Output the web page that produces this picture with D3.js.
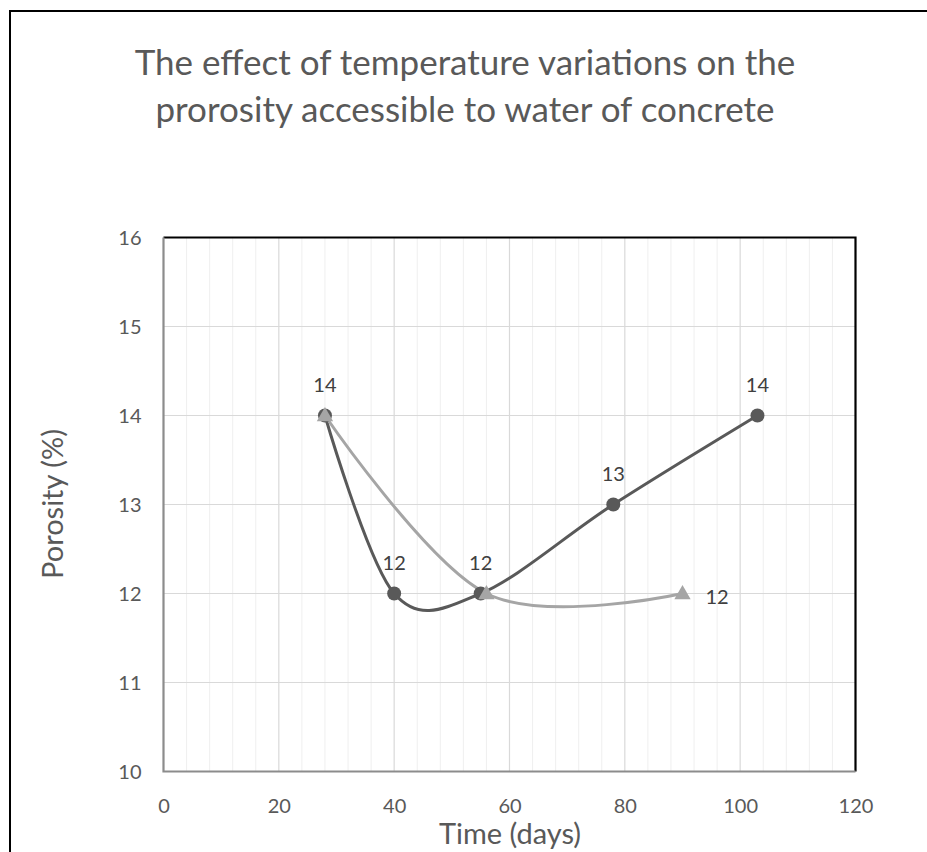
<!DOCTYPE html>
<html>
<head>
<meta charset="utf-8">
<script src="https://cdn.jsdelivr.net/npm/d3@7"></script>
<style>
  html, body { margin: 0; padding: 0; background: #fff; }
  svg { display: block; font-family: Lato, "Open Sans", sans-serif; }
</style>
</head>
<body>
<svg id="chart" width="927" height="852"></svg>
<script>
// ---- data ----
const titleLines = ["The effect of temperature variations on the", "prorosity accessible to water of concrete"];
const xTitle = "Time (days)";
const yTitle = "Porosity (%)";
const xTicks = [0, 20, 40, 60, 80, 100, 120];
const yTicks = [10, 11, 12, 13, 14, 15, 16];
const seriesA_x = [28, 40, 55, 78, 103];
const seriesA_y = [14, 12, 12, 13, 14];
const seriesB_x = [28, 56, 90];
const seriesB_y = [14, 12, 12];
const seriesB_labelIdx = [2];

// ---- layout ----
const svg = d3.select("#chart");
const W = 927, H = 852;
const plot = { left: 163.5, right: 855.5, top: 237.5, bottom: 771.5 };
const x = d3.scaleLinear().domain([0, 120]).range([plot.left, plot.right]);
const y = d3.scaleLinear().domain([10, 16]).range([plot.bottom, plot.top]);

const textColor = "#595959";
const darkColor = "#595959";
const lightColor = "#a5a5a5";

// outer chart frame
svg.append("path")
  .attr("d", `M10,${H + 5} L10,11 L${W + 5},11`)
  .attr("fill", "none").attr("stroke", "#000").attr("stroke-width", 2);

// title
const title = svg.append("text")
  .attr("text-anchor", "middle")
  .attr("fill", textColor)
  .style("font-size", "35px");
titleLines.forEach((t, i) => {
  title.append("tspan").attr("x", 465).attr("y", 75 + i * 47).text(t);
});

// minor vertical gridlines
const minorX = d3.range(0, 121, 4).filter(v => v % 20 !== 0);
svg.append("g").selectAll("line").data(minorX).join("line")
  .attr("x1", d => x(d)).attr("x2", d => x(d))
  .attr("y1", plot.top).attr("y2", plot.bottom)
  .attr("stroke", "#efefef").attr("stroke-width", 1);

// major gridlines
svg.append("g").selectAll("line").data(xTicks.filter(v => v > 0 && v < 120)).join("line")
  .attr("x1", d => x(d)).attr("x2", d => x(d))
  .attr("y1", plot.top).attr("y2", plot.bottom)
  .attr("stroke", "#d9d9d9").attr("stroke-width", 1.2);
svg.append("g").selectAll("line").data(yTicks.filter(v => v > 10 && v < 16)).join("line")
  .attr("x1", plot.left).attr("x2", plot.right)
  .attr("y1", d => y(d)).attr("y2", d => y(d))
  .attr("stroke", "#d9d9d9").attr("stroke-width", 1.2);

// plot border: top & right black, left & bottom gray axes
svg.append("path")
  .attr("d", `M${plot.left},${plot.top} L${plot.right},${plot.top} L${plot.right},${plot.bottom}`)
  .attr("fill", "none").attr("stroke", "#000").attr("stroke-width", 2.2);
svg.append("path")
  .attr("d", `M${plot.left},${plot.top} L${plot.left},${plot.bottom} L${plot.right},${plot.bottom}`)
  .attr("fill", "none").attr("stroke", "#8c8c8c").attr("stroke-width", 2.2);

// axes tick labels via d3 axes
const xAxis = d3.axisBottom(x).tickValues(xTicks).tickSize(0).tickPadding(0).tickFormat(d3.format("d"));
const gx = svg.append("g").attr("transform", `translate(0,${plot.bottom})`).call(xAxis);
gx.select(".domain").remove();
gx.selectAll("text").attr("y", 41).attr("dy", 0).attr("fill", textColor)
  .style("font-size", "20px").style("font-family", "Lato, sans-serif");

const yAxis = d3.axisLeft(y).tickValues(yTicks).tickSize(0).tickPadding(0).tickFormat(d3.format("d"));
const gy = svg.append("g").attr("transform", `translate(${plot.left},0)`).call(yAxis);
gy.select(".domain").remove();
gy.selectAll("text").attr("x", -22).attr("dy", "0.35em").attr("fill", textColor)
  .style("font-size", "20px").style("font-family", "Lato, sans-serif");

// axis titles
svg.append("text").attr("x", 510).attr("y", 844).attr("text-anchor", "middle")
  .attr("fill", textColor).style("font-size", "29px").text(xTitle);
svg.append("text").attr("transform", `translate(63,504) rotate(-90)`).attr("text-anchor", "middle")
  .attr("fill", textColor).style("font-size", "29px").text(yTitle);

// series lines
const line = d3.line().x(d => x(d[0])).y(d => y(d[1])).curve(d3.curveCardinal.tension(0));
const dataA = seriesA_x.map((v, i) => [v, seriesA_y[i]]);
const dataB = seriesB_x.map((v, i) => [v, seriesB_y[i]]);

svg.append("path").datum(dataA).attr("d", line)
  .attr("fill", "none").attr("stroke", darkColor).attr("stroke-width", 3).attr("stroke-linecap", "round");
svg.append("path").datum(dataB).attr("d", line)
  .attr("fill", "none").attr("stroke", lightColor).attr("stroke-width", 3).attr("stroke-linecap", "round");

// markers A (circles)
svg.append("g").selectAll("circle").data(dataA).join("circle")
  .attr("cx", d => x(d[0])).attr("cy", d => y(d[1])).attr("r", 7)
  .attr("fill", darkColor);

// markers B (triangles)
const tri = d3.symbol().type(d3.symbolTriangle).size(115);
svg.append("g").selectAll("path").data(dataB).join("path")
  .attr("transform", d => `translate(${x(d[0])},${y(d[1]) + 1})`)
  .attr("d", tri).attr("fill", lightColor);

// data labels A (above)
svg.append("g").selectAll("text").data(dataA).join("text")
  .attr("x", d => x(d[0])).attr("y", d => y(d[1]) - 24)
  .attr("text-anchor", "middle").attr("fill", "#404040")
  .style("font-size", "20px").text(d => d3.format("d")(d[1]));

// data labels B (right)
svg.append("g").selectAll("text").data(seriesB_labelIdx.map(i => dataB[i])).join("text")
  .attr("x", d => x(d[0]) + 23).attr("y", d => y(d[1]) + 10)
  .attr("text-anchor", "start").attr("fill", "#404040")
  .style("font-size", "20px").text(d => d3.format("d")(d[1]));
</script>
</body>
</html>
